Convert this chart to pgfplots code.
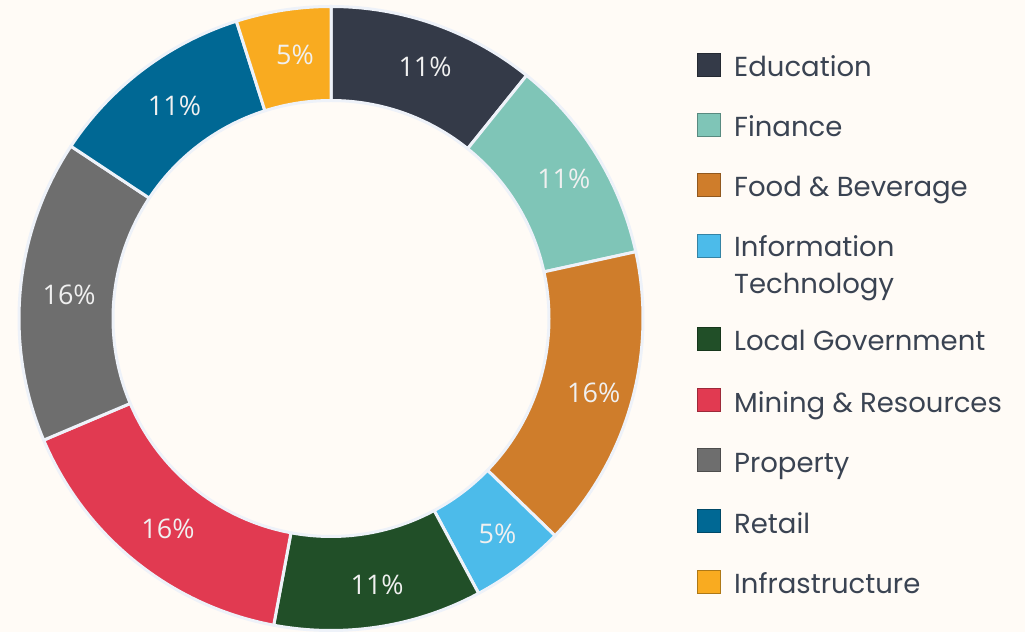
\documentclass[border=0pt]{standalone}
\usepackage{pgfplots}
\pgfplotsset{compat=1.18}
\usepackage{pgfplotstable}
\usepackage{fontspec}
\setmainfont{Poppins}
\newfontfamily\labelfont{Open Sans}
\definecolor{bg}{HTML}{FFFBF6}
\definecolor{border}{HTML}{EEF2F9}
\definecolor{legtext}{HTML}{3A4352}
\definecolor{cEdu}{HTML}{343A48}
\definecolor{cFin}{HTML}{7FC5B7}
\definecolor{cFood}{HTML}{CF7D2B}
\definecolor{cIT}{HTML}{4CBBEA}
\definecolor{cGov}{HTML}{214F28}
\definecolor{cMin}{HTML}{E13A51}
\definecolor{cProp}{HTML}{6E6E6E}
\definecolor{cRet}{HTML}{006894}
\definecolor{cInf}{HTML}{F9AB20}
% sector values (percent, as labelled)
\pgfplotstableread[col sep=comma]{
value,col
11,cEdu
11,cFin
16,cFood
5,cIT
11,cGov
16,cMin
16,cProp
11,cRet
5,cInf
}\donutdata
\def\cx{331}\def\cy{313.5}\def\Rout{312}\def\Rin{218}\def\Rlab{268}
\begin{document}
\begin{tikzpicture}
\pgfplotstablegetrowsof{\donutdata}
\pgfmathtruncatemacro{\nrows}{\pgfplotsretval-1}
\xdef\total{0}
\foreach \i in {0,...,\nrows}{%
  \pgfplotstablegetelem{\i}{value}\of\donutdata
  \pgfmathsetmacro\t{\total+\pgfplotsretval}\xdef\total{\t}}
\xdef\cum{0}
\foreach \i in {0,...,\nrows}{%
  \pgfplotstablegetelem{\i}{value}\of\donutdata
  \let\v\pgfplotsretval
  \pgfmathsetmacro\s{90-(\cum/\total)*360}
  \pgfmathsetmacro\e{90-((\cum+\v)/\total)*360}
  \pgfmathsetmacro\m{(\s+\e)/2}
  \pgfmathtruncatemacro\p{\v}
  \pgfmathsetmacro\lx{\cx+5+\Rlab*cos(\m)}
  \pgfmathsetmacro\ly{\cy-1.5+\Rlab*sin(\m)}
  \expandafter\xdef\csname segS\i\endcsname{\s}
  \expandafter\xdef\csname segE\i\endcsname{\e}
  \expandafter\xdef\csname segP\i\endcsname{\p}
  \expandafter\xdef\csname segX\i\endcsname{\lx}
  \expandafter\xdef\csname segY\i\endcsname{\ly}
  \pgfplotstablegetelem{\i}{col}\of\donutdata
  \expandafter\xdef\csname segC\i\endcsname{\pgfplotsretval}
  \pgfmathsetmacro\c{\cum+\v}\xdef\cum{\c}
}
\begin{axis}[
  name=ax,
  width=1025bp, height=632bp, scale only axis,
  xmin=0, xmax=1025, ymin=0, ymax=632,
  hide axis, clip=false,
]
\fill[bg] (axis cs:0,0) rectangle (axis cs:1025,632);
\pgfplotsinvokeforeach{0,...,8}{
  \filldraw[fill=\csname segC#1\endcsname, draw=border, line width=3bp, line join=round]
    (axis cs:\cx,\cy) ++(\csname segS#1\endcsname:\Rout bp)
    arc[start angle=\csname segS#1\endcsname, end angle=\csname segE#1\endcsname, radius=\Rout bp]
    -- ++(\csname segE#1\endcsname:-94bp)
    arc[start angle=\csname segE#1\endcsname, end angle=\csname segS#1\endcsname, radius=\Rin bp]
    -- cycle;
  \node[font=\labelfont\fontsize{27bp}{30bp}\selectfont, text=white!94!black]
    at (axis cs:\csname segX#1\endcsname,\csname segY#1\endcsname) {\csname segP#1\endcsname\%};
}
% legend
\newcommand\legitem[2]{%
  \filldraw[fill=#1, draw=#1!70!black, line width=0.8bp] (axis cs:697.5,{632-#2}) rectangle (axis cs:720.5,{632-#2-23});
}
\legitem{cEdu}{53.5}
\legitem{cFin}{113.5}
\legitem{cFood}{173.5}
\legitem{cIT}{234.5}
\legitem{cGov}{327.5}
\legitem{cMin}{388.5}
\legitem{cProp}{448.5}
\legitem{cRet}{509.5}
\legitem{cInf}{570.5}
\begin{scope}[every node/.style={anchor=base west, inner sep=0pt, text=legtext, font=\fontsize{27.5bp}{36bp}\selectfont}]
\node at (axis cs:734,{632-77}) {Education};
\node at (axis cs:734,{632-137}) {Finance};
\node at (axis cs:734,{632-197}) {Food \& Beverage};
\node at (axis cs:734,{632-257}) {Information};
\node at (axis cs:734,{632-294}) {Technology};
\node at (axis cs:734,{632-351}) {Local Government};
\node at (axis cs:734,{632-412}) {Mining \& Resources};
\node at (axis cs:734,{632-472}) {Property};
\node at (axis cs:734,{632-533}) {Retail};
\node at (axis cs:734,{632-593}) {Infrastructure};
\end{scope}
\end{axis}
\pgfresetboundingbox
\path (ax.south west) rectangle (ax.north east);
\end{tikzpicture}
\end{document}
